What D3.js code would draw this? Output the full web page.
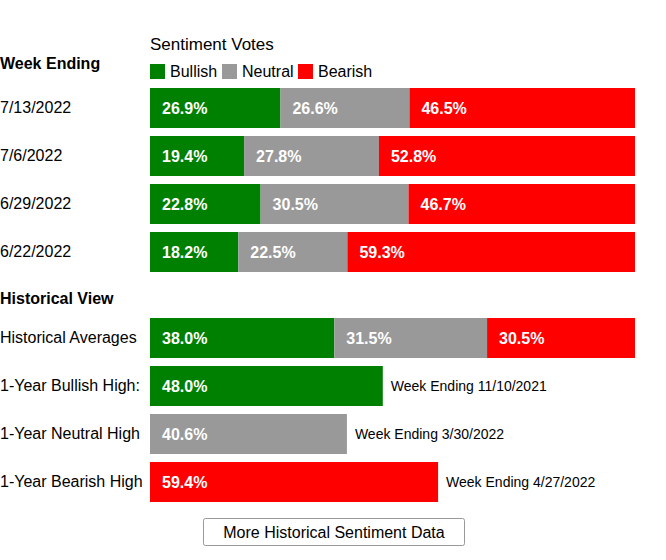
<!DOCTYPE html>
<html>
<head>
<meta charset="utf-8">
<script src="https://cdn.jsdelivr.net/npm/d3@7"></script>
<style>
  body { margin: 0; background: #fff; }
  svg { font-family: "Liberation Sans", Arial, sans-serif; }
</style>
</head>
<body>
<div id="viz"></div>
<script>
// weekly sentiment votes
var weeks = ["7/13/2022", "7/6/2022", "6/29/2022", "6/22/2022"];
var bullish = [26.9, 19.4, 22.8, 18.2];
var neutral = [26.6, 27.8, 30.5, 22.5];
var bearish = [46.5, 52.8, 46.7, 59.3];

var seriesNames = ["Bullish", "Neutral", "Bearish"];
var colors = ["#008000", "#999999", "#ff0000"];

// historical view
var histAvgLabel = "Historical Averages";
var histAvg = [38.0, 31.5, 30.5];

var highLabels = ["1-Year Bullish High:", "1-Year Neutral High", "1-Year Bearish High"];
var highValues = [48.0, 40.6, 59.4];
var highWeeks = ["11/10/2021", "3/30/2022", "4/27/2022"];

var width = 666,
    height = 560;

var svg = d3.select("#viz")
  .append("svg")
    .attr("width", width)
    .attr("height", height);

var x = d3.scaleLinear().domain([0, 100]).range([150, 635]);

var yWeek = d3.scaleBand().domain(weeks).range([84, 276]).paddingInner(0.1667).paddingOuter(0.0833);
var histRows = [histAvgLabel].concat(highLabels);
var yHist = d3.scaleBand().domain(histRows).range([314, 506]).paddingInner(0.1667).paddingOuter(0.0833);

// headers
svg.append("text").attr("x", 150).attr("y", 50)
  .style("font-size", "17px").style("fill", "#000").text("Sentiment Votes");
svg.append("text").attr("x", 0).attr("y", 69)
  .style("font-size", "16px").style("font-weight", "bold").style("fill", "#000").text("Week Ending");

// legend
var legendX = [150, 222, 298];
var legend = svg.selectAll(".legend").data(seriesNames).enter().append("g")
  .attr("transform", function(d, i) { return "translate(" + legendX[i] + ",64)"; });
legend.append("rect").attr("width", 15).attr("height", 15)
  .style("fill", function(d, i) { return colors[i]; });
legend.append("text").attr("x", 20).attr("y", 13)
  .style("font-size", "16px").style("fill", "#000").text(function(d) { return d; });

function stackRow(vals) {
  var acc = 0;
  return vals.map(function(v, i) {
    var s = { x0: acc, x1: acc + v, v: v, i: i };
    acc += v;
    return s;
  });
}

function drawStacked(g, vals) {
  var segs = stackRow(vals);
  g.selectAll("rect").data(segs).enter().append("rect")
    .attr("x", function(d) { return x(d.x0); })
    .attr("width", function(d) { return x(d.x1) - x(d.x0); })
    .attr("height", yWeek.bandwidth())
    .style("fill", function(d) { return colors[d.i]; });
  g.selectAll("text.val").data(segs).enter().append("text")
    .attr("class", "val")
    .attr("x", function(d) { return x(d.x0) + 12; })
    .attr("y", yWeek.bandwidth() / 2 + 6)
    .style("font-size", "16px").style("font-weight", "bold").style("fill", "#fff")
    .text(function(d) { return d.v.toFixed(1) + "%"; });
}

// weekly rows
weeks.forEach(function(w, k) {
  var g = svg.append("g").attr("transform", "translate(0," + yWeek(w) + ")");
  g.append("text").attr("x", 0).attr("y", yWeek.bandwidth() / 2 + 5.5)
    .style("font-size", "16px").style("fill", "#000").text(w);
  drawStacked(g, [bullish[k], neutral[k], bearish[k]]);
});

// historical view
svg.append("text").attr("x", 0).attr("y", 304)
  .style("font-size", "16px").style("font-weight", "bold").style("fill", "#000").text("Historical View");

var ga = svg.append("g").attr("transform", "translate(0," + yHist(histAvgLabel) + ")");
ga.append("text").attr("x", 0).attr("y", yHist.bandwidth() / 2 + 5.5)
  .style("font-size", "16px").style("fill", "#000").text(histAvgLabel);
drawStacked(ga, histAvg);

highLabels.forEach(function(lab, i) {
  var g = svg.append("g").attr("transform", "translate(0," + yHist(lab) + ")");
  g.append("text").attr("x", 0).attr("y", yHist.bandwidth() / 2 + 5.5)
    .style("font-size", "16px").style("fill", "#000").text(lab);
  g.append("rect").attr("x", x(0)).attr("width", x(highValues[i]) - x(0))
    .attr("height", yHist.bandwidth()).style("fill", colors[i]);
  g.append("text").attr("x", x(0) + 12).attr("y", yHist.bandwidth() / 2 + 6)
    .style("font-size", "16px").style("font-weight", "bold").style("fill", "#fff")
    .text(highValues[i].toFixed(1) + "%");
  g.append("text").attr("x", x(highValues[i]) + 8).attr("y", yHist.bandwidth() / 2 + 5)
    .style("font-size", "14px").style("fill", "#000")
    .text("Week Ending " + highWeeks[i]);
});

// button
var btn = svg.append("g").attr("transform", "translate(203,518)");
btn.append("rect").attr("x", 0.5).attr("y", 0.5).attr("width", 261).attr("height", 27)
  .attr("rx", 2).style("fill", "#fff").style("stroke", "#999").style("stroke-width", 1);
btn.append("text").attr("x", 131).attr("y", 19.5).attr("text-anchor", "middle")
  .style("font-size", "16px").style("fill", "#000").text("More Historical Sentiment Data");
</script>
</body>
</html>
